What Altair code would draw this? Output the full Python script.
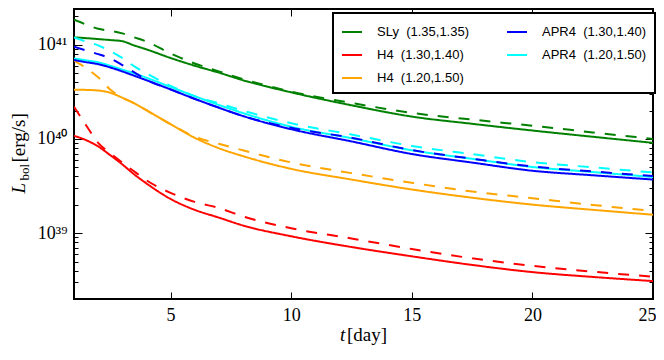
import altair as alt
import pandas as pd

# ---- data (t in days, L in erg/s) ----
t_day = [1, 1.5, 2, 2.5, 3, 3.5, 4, 5, 6, 7, 8, 10, 12.5, 15, 17.5, 20, 22.5, 25]

sly_solid = [1.20e41, 1.177e41, 1.15e41, 1.123e41, 1.092e41, 9.84e40, 8.95e40, 7.25e40, 6.00e40,
             5.07e40, 4.21e40, 3.13e40, 2.28e40, 1.73e40, 1.45e40, 1.23e40, 1.056e40, 9.10e39]
sly_dashed = [1.845e41, 1.643e41, 1.481e41, 1.406e41, 1.322e41, 1.199e41, 1.084e41, 8.10e40, 6.34e40,
              5.22e40, 4.33e40, 3.19e40, 2.415e40, 1.894e40, 1.608e40, 1.382e40, 1.175e40, 1.00e40]

h4a_solid = [1.081e40, 9.72e39, 8.34e39, 6.74e39, 5.38e39, 4.20e39, 3.38e39, 2.31e39, 1.77e39,
             1.464e39, 1.208e39, 9.27e38, 7.13e38, 5.68e38, 4.60e38, 3.86e38, 3.43e38, 3.10e38]
h4a_dashed = [2.20e40, 1.40e40, 9.1e39, 7.07e39, 5.64e39, 4.51e39, 3.65e39, 2.68e39, 2.15e39,
              1.85e39, 1.51e39, 1.128e39, 8.78e38, 6.80e38, 5.41e38, 4.50e38, 3.90e38, 3.45e38]

h4b_solid = [3.34e40, 3.32e40, 3.27e40, 3.10e40, 2.745e40, 2.39e40, 2.023e40, 1.436e40, 1.031e40,
             7.99e39, 6.58e39, 4.82e39, 3.71e39, 2.91e39, 2.38e39, 2.01e39, 1.77e39, 1.57e39]
h4b_dashed = [6.79e40, 5.66e40, 4.52e40, 3.36e40, 2.745e40, 2.39e40, 2.023e40, 1.436e40, 1.056e40,
              8.89e39, 7.59e39, 5.64e39, 4.34e39, 3.43e39, 2.77e39, 2.35e39, 1.995e39, 1.72e39]

apra_solid = [6.88e40, 6.54e40, 6.23e40, 5.75e40, 5.22e40, 4.69e40, 4.21e40, 3.36e40, 2.67e40,
              2.15e40, 1.755e40, 1.27e40, 9.43e39, 6.93e39, 5.62e39, 4.60e39, 4.12e39, 3.71e39]
apra_dashed = [9.52e40, 8.70e40, 7.97e40, 7.17e40, 6.10e40, 5.09e40, 4.26e40, 3.36e40, 2.67e40,
               2.15e40, 1.755e40, 1.313e40, 1.031e40, 7.62e39, 6.18e39, 5.11e39, 4.52e39, 4.04e39]

aprb_solid = [7.17e40, 6.84e40, 6.52e40, 6.00e40, 5.46e40, 4.97e40, 4.47e40, 3.57e40, 2.85e40,
              2.30e40, 1.885e40, 1.35e40, 1.02e40, 7.59e39, 6.16e39, 5.04e39, 4.46e39, 3.94e39]
aprb_dashed = [1.197e41, 1.084e41, 9.86e40, 8.58e40, 7.25e40, 5.89e40, 4.98e40, 3.67e40, 2.85e40,
               2.39e40, 2.00e40, 1.47e40, 1.115e40, 8.44e39, 6.90e39, 5.68e39, 5.00e39, 4.41e39]

NB = "\u00a0\u00a0"
lab_sly = "SLy" + NB + "(1.35,1.35)"
lab_h4a = "H4" + NB + "(1.30,1.40)"
lab_h4b = "H4" + NB + "(1.20,1.50)"
lab_apra = "APR4" + NB + "(1.30,1.40)"
lab_aprb = "APR4" + NB + "(1.20,1.50)"

# legend is filled column by column (3 rows)
legend_order = [lab_sly, lab_h4a, lab_h4b, lab_apra, lab_aprb]
legend_colors = ["#008000", "#ff0000", "#ffa500", "#0000ff", "#00ffff"]

x_ticks = [5, 10, 15, 20, 25]
y_major = [1e39, 1e40, 1e41]
y_minor = [3e38, 4e38, 5e38, 6e38, 7e38, 8e38, 9e38,
           2e39, 3e39, 4e39, 5e39, 6e39, 7e39, 8e39, 9e39,
           2e40, 3e40, 4e40, 5e40, 6e40, 7e40, 8e40, 9e40, 2e41]

series = [
    (lab_sly, "solid", sly_solid), (lab_sly, "dashed", sly_dashed),
    (lab_h4a, "solid", h4a_solid), (lab_h4a, "dashed", h4a_dashed),
    (lab_h4b, "solid", h4b_solid), (lab_h4b, "dashed", h4b_dashed),
    (lab_aprb, "solid", aprb_solid), (lab_aprb, "dashed", aprb_dashed),
    (lab_apra, "solid", apra_solid), (lab_apra, "dashed", apra_dashed),
]
rows = []
for model, kind, vals in series:
    for t, v in zip(t_day, vals):
        rows.append({"model": model, "kind": kind, "series": model + kind, "t": t, "L": v})
df = pd.DataFrame(rows)

W, H = 579, 290
SERIF = "Liberation Serif"
SANS = "Liberation Sans"

xscale = alt.Scale(domain=[1, 25], nice=False, zero=False)
yscale = alt.Scale(type="log", domain=[2e38, 2.4e41], nice=False)

lines = alt.Chart(df).mark_line(strokeWidth=2, interpolate="monotone", clip=True).encode(
    x=alt.X("t:Q", scale=xscale,
            axis=alt.Axis(orient="bottom", values=x_ticks, ticks=False, tickSize=0, domain=False,
                          grid=False, title=None, labelFont=SERIF, labelFontSize=18,
                          labelColor="black", labelBaseline="alphabetic", labelPadding=21,
                          labelFlush=True, labelFlushOffset=3)),
    y=alt.Y("L:Q", scale=yscale,
            axis=alt.Axis(orient="left", values=y_major, ticks=False, tickSize=0, domain=False,
                          grid=False, title=None, labelFont=SERIF, labelFontSize=18,
                          labelColor="black", labelPadding=7, labelFlush=False,
                          labelExpr="datum.value > 3e40 ? '10⁴¹' : (datum.value > 3e39 ? '10⁴⁰' : '10³⁹')")),
    color=alt.Color("model:N", scale=alt.Scale(domain=legend_order, range=legend_colors),
                    legend=alt.Legend(title=None, orient="none", legendX=259, legendY=4, columns=2,
                                      symbolType="stroke", symbolSize=400, symbolStrokeWidth=2,
                                      labelFont=SANS, labelFontSize=13, labelColor="black",
                                      labelOffset=14, columnPadding=33, rowPadding=5, padding=8,
                                      strokeColor="black", fillColor="white", cornerRadius=0)),
    strokeDash=alt.StrokeDash("kind:N", scale=alt.Scale(domain=["solid", "dashed"], range=[[1, 0], [11, 10]]),
                              legend=None),
    detail="series:N",
)

common = dict(labels=False, domain=False, grid=False, title=None, ticks=True,
              tickColor="black", tickWidth=1)


def tick_layer(xaxis, yaxis):
    return alt.Chart(df).mark_point(opacity=0).encode(
        x=alt.X("t:Q", scale=xscale, axis=xaxis),
        y=alt.Y("L:Q", scale=yscale, axis=yaxis),
    )


layer_a = tick_layer(alt.Axis(orient="top", offset=-H, values=x_ticks, tickSize=7, **common),
                     alt.Axis(orient="right", offset=-W, values=y_major, tickSize=8, **common))
layer_b = tick_layer(alt.Axis(orient="bottom", offset=-H, values=x_ticks, tickSize=7, **common),
                     alt.Axis(orient="left", offset=-W, values=y_major, tickSize=8, **common))
layer_c = tick_layer(None, alt.Axis(orient="right", offset=-W, values=y_minor, tickSize=4, **common))
layer_d = tick_layer(None, alt.Axis(orient="left", offset=-W, values=y_minor, tickSize=4, **common))

anchor = pd.DataFrame({"a": [0]})


def text_piece(text, x, y, size, style="normal", angle=0):
    return alt.Chart(anchor).mark_text(text=text, font=SERIF, fontSize=size, fontStyle=style,
                                       angle=angle, align="left", baseline="alphabetic",
                                       color="black").encode(x=alt.value(x), y=alt.value(y))


y_title = [
    text_piece("L", -49, 184.5, 19, "italic", 270),
    text_piece("bol", -45, 171.5, 13, "normal", 270),
    text_piece("[erg/s]", -49, 153.5, 19, "normal", 270),
]
x_title = [
    text_piece("t", 266, 332, 19, "italic"),
    text_piece("[day]", 273, 332, 19, "normal"),
]

chart = alt.layer(lines, layer_a, layer_b, layer_c, layer_d, *y_title, *x_title).resolve_scale(
    x="shared", y="shared"
).resolve_axis(
    x="independent", y="independent"
).properties(
    width=W, height=H,
    autosize=alt.AutoSizeParams(type="none"),
    padding={"left": 66, "top": 1, "right": 3, "bottom": 47},
).configure_view(
    stroke="black", strokeWidth=2
).configure_legend(
    strokeWidth=2
)

chart.save("out.html", embed_options={"renderer": "svg", "actions": False})
